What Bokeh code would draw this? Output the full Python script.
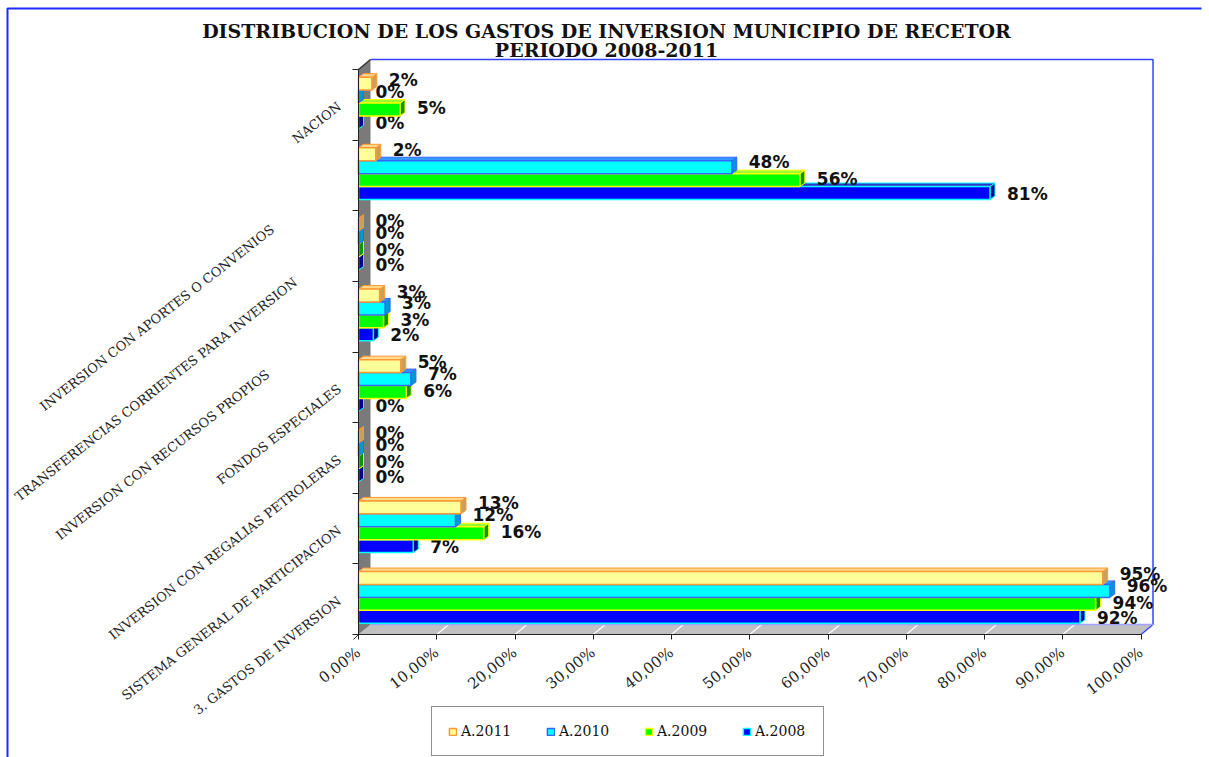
import math
from bokeh.plotting import figure
from bokeh.models import (Range1d, FixedTicker, LinearAxis, Label, Legend, LegendItem)
from bokeh.embed import file_html
from bokeh.resources import INLINE
from bokeh.core.properties import value

# ---------------- data ----------------
categories = [
    "3. GASTOS DE INVERSION",
    "SISTEMA GENERAL DE PARTICIPACION",
    "INVERSION CON REGALIAS PETROLERAS",
    "FONDOS ESPECIALES",
    "INVERSION CON RECURSOS PROPIOS",
    "TRANSFERENCIAS CORRIENTES PARA INVERSION",
    "INVERSION CON APORTES O CONVENIOS",
    "NACION",
]
series_names = ["A.2011", "A.2010", "A.2009", "A.2008"]
a2011 = [95.1, 13.1, 0.0, 5.4, 2.7, 0.0, 2.2, 1.7]
a2010 = [96.0, 12.4, 0.0, 6.7, 3.4, 0.0, 47.7, 0.0]
a2009 = [94.2, 16.0, 0.0, 6.1, 3.2, 0.0, 56.4, 5.3]
a2008 = [92.2, 7.0, 0.0, 0.0, 1.9, 0.0, 80.7, 0.0]
series_values = [a2011, a2010, a2009, a2008]
x_ticks = [0, 10, 20, 30, 40, 50, 60, 70, 80, 90, 100]
x_tick_labels = ["0,00%", "10,00%", "20,00%", "30,00%", "40,00%", "50,00%",
                 "60,00%", "70,00%", "80,00%", "90,00%", "100,00%"]
title_lines = ["DISTRIBUCION DE LOS GASTOS DE INVERSION MUNICIPIO DE RECETOR",
               "PERIODO 2008-2011"]

# ---------------- styles / layout ----------------
front_fill = ["#FFFF99", "#00FFFF", "#00FF00", "#0000FF"]
front_line = ["#FF9933", "#3366FF", "#FFFF00", "#00FFFF"]
side_fill = ["#C8A05A", "#0099CC", "#009900", "#000099"]
top_fill = ["#FFD98C", "#3399FF", "#99FF33", "#3333CC"]
bar_offsets = [0.300, 0.117, -0.066, -0.249]
bar_h = 0.183
label_dy = [-4, -5, -1, 1]

W, H = 1209, 757
PX_X = 7.825          # px per percent
PX_Y = 70.625         # px per category
X0, Y0 = 358, 634     # pixel position of (0%, axis bottom)

def X(px):  # canvas px -> data x
    return (px - X0) / PX_X

def Y(py):  # canvas px -> data y
    return (Y0 - py) / PX_Y

DX, DY = 5 / PX_X, 3.5 / PX_Y          # bar depth
DX2, DY2 = 12 / PX_X, 10 / PX_Y        # wall/floor depth
n = len(categories)

p = figure(width=W, height=H, output_backend="svg", toolbar_location=None,
           x_axis_type=None, y_axis_type=None,
           x_range=Range1d(X(0), X(W)), y_range=Range1d(Y(H), Y(0)),
           min_border=0, min_border_left=0, min_border_right=0,
           min_border_top=0, min_border_bottom=0)
p.outline_line_color = None
p.xgrid.visible = False
p.ygrid.visible = False
p.background_fill_color = "white"
p.border_fill_color = "white"

# outer border of the chart object (left and top)
p.line([X(7), X(7), X(1201)], [Y(757), Y(8), Y(8)], line_color="#1a2cff", line_width=2)

# floor and wall
p.patch([0, 100, 100 + DX2, DX2], [0, 0, DY2, DY2], fill_color="#C0C0C0", line_color=None)
for t in x_ticks[1:]:
    p.line([t, t + DX2], [0, DY2], line_color="white", line_width=1.2)
p.patch([0, DX2, DX2, 0], [0, DY2, n + DY2, n], fill_color="#7a7a7a", line_color=None)
p.line([0, DX2], [n, n + DY2], line_color="#333333", line_width=1.5)
p.line([X(353), 0], [Y(639), 0], line_color="#333333", line_width=1)
# back plane border
p.line([DX2, 100 + DX2, 100 + DX2, 100], [n + DY2, n + DY2, DY2, 0],
       line_color="#3344FF", line_width=1.5)
p.line([DX2, 100 + DX2], [DY2, DY2], line_color="#A0A0FF", line_width=1.5)

# bars (draw lowest series first so upper bars overlap)
renderers = {}
for s in [3, 2, 1, 0]:
    vals = series_values[s]
    xs_side, ys_side, xs_top, ys_top = [], [], [], []
    lefts, rights, bots, tops, ycs = [], [], [], [], []
    for i, v in enumerate(vals):
        yc = i + 0.5 + bar_offsets[s]
        yb, yt = yc - bar_h / 2, yc + bar_h / 2
        xs_side.append([v, v + DX, v + DX, v])
        ys_side.append([yb, yb + DY, yt + DY, yt])
        xs_top.append([0, DX, v + DX, v])
        ys_top.append([yt, yt + DY, yt + DY, yt])
        lefts.append(0); rights.append(v); bots.append(yb); tops.append(yt); ycs.append(yc)
    p.patches(xs_side, ys_side, fill_color=side_fill[s], line_color=front_line[s], line_width=1)
    p.patches(xs_top, ys_top, fill_color=top_fill[s], line_color=front_line[s], line_width=1)
    r = p.quad(left=lefts, right=rights, bottom=bots, top=tops,
               fill_color=front_fill[s], line_color=front_line[s], line_width=1.5)
    renderers[s] = r
    p.text(x=vals, y=ycs, text=[f"{round(v):.0f}%" for v in vals],
           x_offset=17, y_offset=label_dy[s],
           text_font=value("DejaVu Sans"), text_font_style="bold",
           text_font_size="17px", text_color="#111111",
           text_align="left", text_baseline="middle")

# axes (placed at fixed data locations inside the frame)
xaxis = LinearAxis(ticker=FixedTicker(ticks=x_ticks), fixed_location=0,
                   major_label_overrides={t: l for t, l in zip(x_ticks, x_tick_labels)},
                   bounds=(0, 100), major_label_orientation=math.radians(38),
                   major_label_text_font="DejaVu Serif", major_label_text_font_size="15px",
                   major_label_text_color="#222222", major_label_standoff=11,
                   axis_line_color="#222222", major_tick_line_color="#222222",
                   major_tick_out=5, major_tick_in=0, minor_tick_out=0, minor_tick_in=0)
p.add_layout(xaxis, "below")
y_ticks = list(range(n + 1))
yaxis = LinearAxis(ticker=FixedTicker(ticks=y_ticks), bounds=(0, n), fixed_location=0,
                   major_label_overrides={t: "" for t in y_ticks},
                   axis_line_color="#222222", major_tick_line_color="#222222",
                   major_tick_out=6, major_tick_in=0, minor_tick_out=0, minor_tick_in=0)
p.add_layout(yaxis, "left")

# category labels (rotated)
ang = math.radians(38)
label_shift = [0, 0, 0, 0, 91, 56, 85, 0]
for i, c in enumerate(categories):
    d = label_shift[i]
    p.add_layout(Label(x=X(339) - d * math.cos(ang) / PX_X,
                       y=i + 0.5 - d * math.sin(ang) / PX_Y,
                       text=c, angle=ang, text_align="right", text_baseline="middle",
                       text_font="DejaVu Serif", text_font_size="13px",
                       text_color="#222222"))

# title
p.add_layout(Label(x=X(606), y=Y(30), text=title_lines[0], text_align="center",
                   text_baseline="middle", text_font="DejaVu Serif", text_font_style="bold",
                   text_font_size="19px", text_color="#111111"))
p.add_layout(Label(x=X(606), y=Y(49), text=title_lines[1], text_align="center",
                   text_baseline="middle", text_font="DejaVu Serif", text_font_style="bold",
                   text_font_size="19px", text_color="#111111"))

# legend
legend = Legend(items=[LegendItem(label=series_names[s], renderers=[renderers[s]]) for s in range(4)],
                orientation="horizontal", location=(431, H - 756),
                glyph_width=9, glyph_height=9, label_standoff=4, spacing=33,
                padding=16, margin=0, label_height=14, label_width=52,
                label_text_font="DejaVu Serif", label_text_font_size="14px",
                label_text_color="#111111",
                border_line_color="#222222", border_line_width=1,
                background_fill_color="white", background_fill_alpha=1)
p.add_layout(legend, "center")

open("out.html", "w").write(file_html(p, INLINE))
